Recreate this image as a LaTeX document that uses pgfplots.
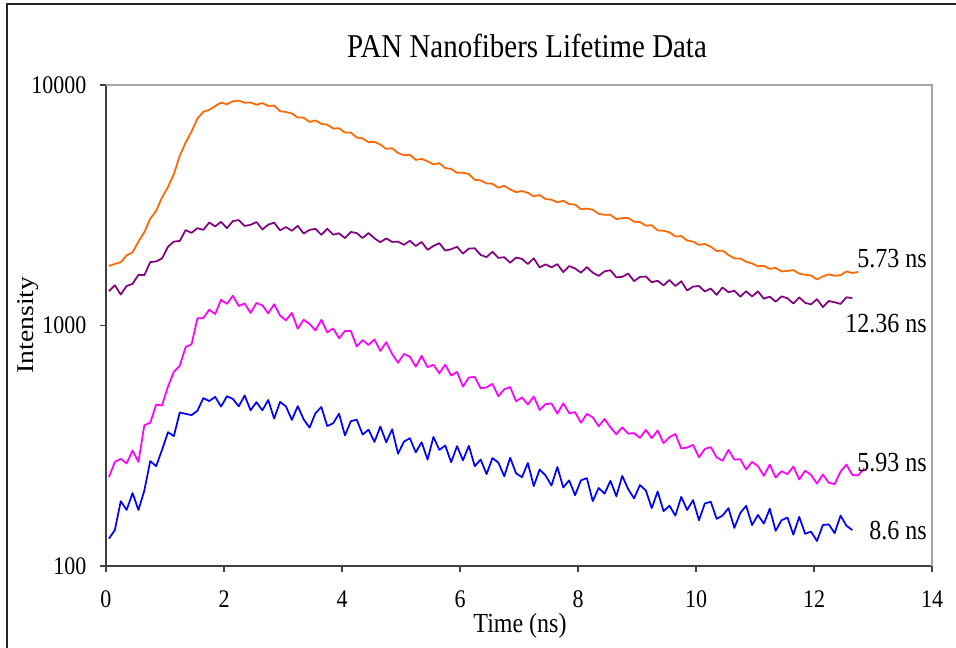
\documentclass[border=0pt]{standalone}
\usepackage{pgfplots}
\pgfplotsset{compat=1.18}
\usepackage{pgfplotstable}
\usepackage{fontspec}
\setmainfont{Liberation Serif}
\definecolor{cOrange}{RGB}{255,102,0}
\definecolor{cPurple}{RGB}{128,0,128}
\definecolor{cMagenta}{RGB}{255,0,255}
\definecolor{cBlue}{RGB}{0,0,255}
\pgfplotstableread{
x o p m b
0.05 1768 1389 234 130
0.15 1803 1470 271 141
0.25 1833 1345 279 186
0.35 1958 1460 267 171
0.45 2012 1489 302 201
0.55 2233 1624 271 171
0.65 2445 1619 385 206
0.75 2779 1834 394 273
0.85 2995 1847 469 260
0.95 3410 1901 465 304
1.05 3767 2124 557 360
1.15 4255 2231 642 347
1.25 5075 2247 680 435
1.35 5763 2493 814 429
1.45 6412 2427 835 424
1.55 7254 2539 1071 442
1.65 7737 2498 1074 499
1.75 7878 2681 1164 485
1.85 8163 2583 1116 505
1.95 8450 2696 1279 460
2.05 8311 2539 1230 508
2.15 8551 2717 1330 495
2.25 8609 2744 1205 461
2.35 8436 2594 1235 512
2.45 8463 2621 1128 444
2.55 8279 2693 1240 480
2.65 8412 2509 1213 444
2.75 8181 2626 1123 490
2.85 8213 2678 1226 410
2.95 7782 2486 1100 481
3.05 7723 2567 1051 461
3.15 7618 2476 1128 405
3.25 7322 2596 970 462
3.35 7313 2412 1056 407
3.45 7021 2497 1016 376
3.55 7125 2522 953 432
3.65 6890 2381 1056 458
3.75 6841 2525 936 382
3.85 6593 2386 972 392
3.95 6608 2418 885 430
4.05 6342 2308 948 349
4.15 6340 2449 949 400
4.25 6045 2422 817 406
4.35 5998 2310 870 352
4.45 5782 2424 830 369
4.55 5800 2304 875 328
4.65 5654 2220 784 380
4.75 5424 2302 852 327
4.85 5459 2226 761 370
4.95 5216 2230 700 293
5.05 5104 2164 761 329
5.15 5128 2251 742 340
5.25 4881 2140 674 297
5.35 4927 2225 748 327
5.45 4817 2063 671 277
5.55 4680 2142 687 344
5.65 4730 2199 633 304
5.75 4516 2049 687 317
5.85 4480 2075 619 270
5.95 4311 2124 641 315
6.05 4319 1990 557 275
6.15 4263 2089 608 316
6.25 4032 2094 611 260
6.35 4012 1965 548 277
6.45 3896 1925 553 241
6.55 3886 2025 572 281
6.65 3740 1910 508 269
6.75 3807 1923 543 236
6.85 3679 1824 555 282
6.95 3585 1916 484 243
7.05 3622 1893 502 234
7.15 3561 1801 469 268
7.25 3443 1903 507 215
7.35 3487 1743 445 252
7.45 3355 1796 471 238
7.55 3335 1745 474 216
7.65 3251 1799 430 258
7.75 3299 1667 475 212
7.85 3196 1766 432 227
7.95 3183 1728 436 197
8.05 3044 1658 394 227
8.15 3063 1749 429 232
8.25 3030 1658 415 186
8.35 2914 1608 381 211
8.45 2886 1679 409 200
8.55 2884 1698 377 226
8.65 2768 1586 353 195
8.75 2797 1593 377 237
8.85 2800 1645 355 209
8.95 2701 1529 357 191
9.05 2692 1592 341 217
9.15 2600 1598 368 206
9.25 2612 1513 340 174
9.35 2486 1535 366 204
9.45 2477 1468 324 169
9.55 2442 1547 343 178
9.65 2342 1459 354 162
9.75 2355 1527 308 194
9.85 2256 1399 311 171
9.95 2233 1450 319 188
10.05 2164 1460 283 155
10.15 2183 1385 307 182
10.25 2126 1425 312 185
10.35 2041 1341 283 157
10.45 2047 1439 274 162
10.55 1964 1375 304 174
10.65 1901 1394 277 144
10.75 1901 1317 278 166
10.85 1842 1388 252 178
10.95 1810 1321 271 148
11.05 1764 1386 260 163
11.15 1771 1292 237 150
11.25 1720 1319 264 173
11.35 1736 1255 233 140
11.45 1677 1322 248 155
11.55 1688 1298 241 159
11.65 1700 1234 259 135
11.75 1643 1309 229 160
11.85 1625 1242 249 136
11.95 1614 1224 239 139
12.05 1554 1287 220 127
12.15 1600 1193 240 148
12.25 1632 1264 222 149
12.35 1608 1249 219 137
12.45 1620 1229 247 162
12.55 1677 1310 264 147
12.65 1653 1300 239 141
12.75 1670 nan 238 nan
12.85 nan nan 255 nan
}\datatable
\newcommand{\tickfont}{\fontsize{16.5}{19}\selectfont}
\newcommand{\labfont}{\fontsize{18}{21}\selectfont}
\begin{document}
\begin{tikzpicture}[x=1pt,y=1pt]
\path[use as bounding box] (0,0) rectangle (717,486);
\draw[line width=1.5pt, black!85] (5.25,0) -- (5.25,483) -- (717,483);
\begin{axis}[
  at={(79.5pt,61.5pt)}, anchor=south west,
  scale only axis, width=619.5pt, height=360.75pt,
  xmin=0, xmax=14, ymode=log, ymin=100, ymax=10000,
  xtick={0,2,...,14},
  ytick={100,1000,10000}, yticklabels={100,1000,10000},
  yminorticks=false,
  axis lines*=left,
  axis line style={black!75, line width=1.5pt},
  tick align=outside, major tick length=4.5pt,
  tick style={black!75, line width=1pt},
  /pgf/number format/assume math mode=true,
  xticklabel style={font=\tickfont, inner sep=0pt, yshift=-14pt, yscale=1.15},
  yticklabel style={font=\tickfont, inner sep=0pt, xshift=-10pt, yscale=1.15},
  clip=false,
]
\draw[gray!70, line width=1pt] (rel axis cs:0,1) -- (rel axis cs:1,1) -- (rel axis cs:1,0);
\addplot[cOrange, line width=1.3pt, line join=round] table[x=x, y=o] {\datatable};
\addplot[cPurple, line width=1.3pt, line join=round] table[x=x, y=p] {\datatable};
\addplot[cMagenta, line width=1.3pt, line join=round] table[x=x, y=m] {\datatable};
\addplot[cBlue, line width=1.3pt, line join=round] table[x=x, y=b] {\datatable};
\end{axis}
\node[font=\fontsize{21.7}{25}\selectfont, yscale=1.15] at (395.25,451.5) {PAN Nanofibers Lifetime Data};
\node[font=\labfont, anchor=base, yscale=1.15] at (390,11.25) {Time (ns)};
\node[font=\labfont, rotate=90, xscale=1.15] at (21,242.25) {Intensity};
\node[font=\labfont, anchor=east, inner sep=0pt, yscale=1.15] at (695.25,291.75) {5.73 ns};
\node[font=\labfont, anchor=east, inner sep=0pt, yscale=1.15] at (695.25,243) {12.36 ns};
\node[font=\labfont, anchor=east, inner sep=0pt, yscale=1.15] at (695.25,138.75) {5.93 ns};
\node[font=\labfont, anchor=east, inner sep=0pt, yscale=1.15] at (695.25,87.75) {8.6 ns};
\end{tikzpicture}
\end{document}
